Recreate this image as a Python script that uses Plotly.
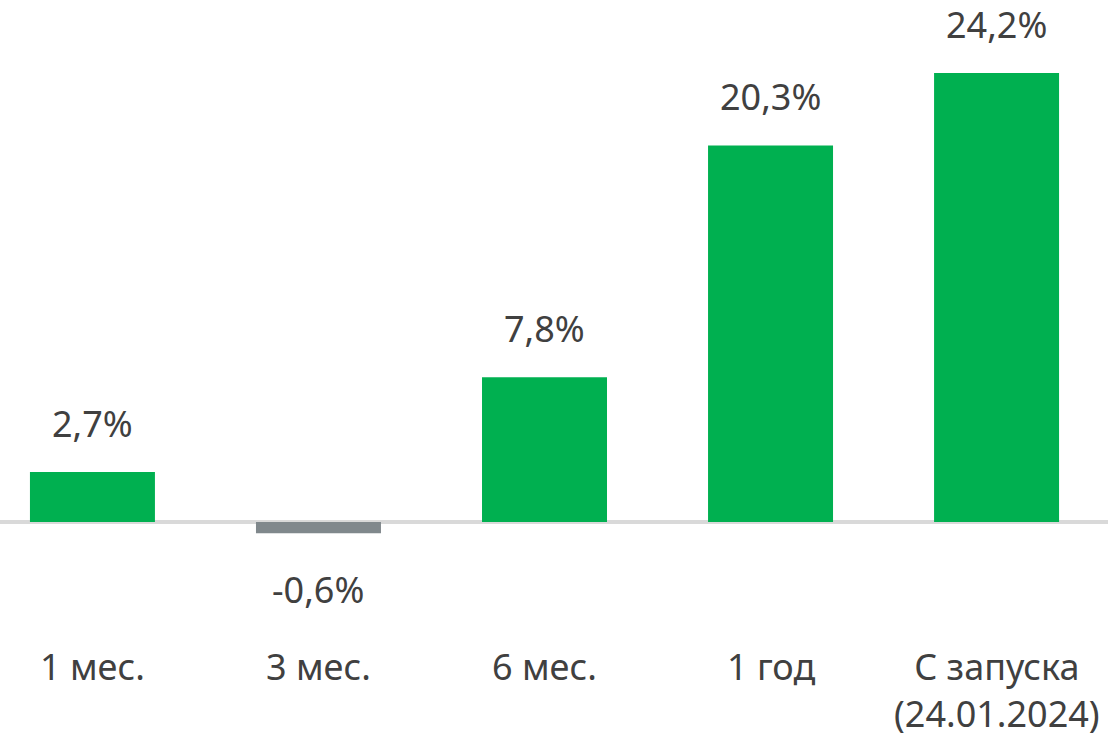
import plotly.graph_objects as go

categories = ["1 мес.", "3 мес.", "6 мес.", "1 год", "С запуска<br>(24.01.2024)"]
values = [2.7, -0.6, 7.8, 20.3, 24.2]
value_labels = ["2,7%", "-0,6%", "7,8%", "20,3%", "24,2%"]

GREEN = "#00b050"
GREY = "#80888c"
TEXT = "#404040"
FONT = "Noto Sans"
FS = 36

xs = list(range(len(categories)))
colors = [GREEN if v >= 0 else GREY for v in values]

fig = go.Figure()
fig.add_trace(go.Bar(
    x=xs, y=values, marker=dict(color=colors, line=dict(width=0)),
    width=0.553, hoverinfo="skip",
))

annotations = []
for x, v, lab in zip(xs, values, value_labels):
    if v >= 0:
        annotations.append(dict(x=x, y=v, xref="x", yref="y", text=lab, showarrow=False,
                                yanchor="bottom", yshift=22,
                                font=dict(family=FONT, size=FS, color=TEXT)))
    else:
        annotations.append(dict(x=x, y=v, xref="x", yref="y", text=lab, showarrow=False,
                                yanchor="top", yshift=-30,
                                font=dict(family=FONT, size=FS, color=TEXT)))
for x, c in zip(xs, categories):
    annotations.append(dict(x=x, y=-4.205, xref="x", yref="y", text=c, showarrow=False,
                            yanchor="top", yshift=-40,
                            font=dict(family=FONT, size=FS, color=TEXT)))

fig.update_layout(
    width=1108, height=743,
    margin=dict(l=0, r=0, t=0, b=143),
    paper_bgcolor="white", plot_bgcolor="white",
    showlegend=False,
    annotations=annotations,
    xaxis=dict(range=[-0.409, 4.493], showgrid=False, zeroline=False,
               showticklabels=False, fixedrange=True),
    yaxis=dict(range=[-4.205, 28.14], showgrid=False, zeroline=True,
               zerolinecolor="#d9d9d9", zerolinewidth=4,
               showticklabels=False, fixedrange=True),
)

fig.write_html("out.html", config={"displayModeBar": False},
               post_script="document.body.style.margin='0';document.body.style.overflow='hidden';")
